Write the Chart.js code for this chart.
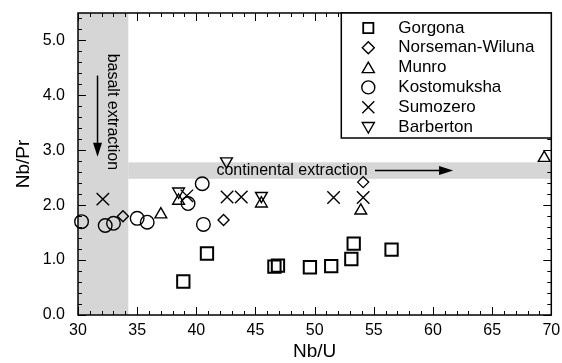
<!DOCTYPE html>
<html lang="en">
<head>
  <meta charset="UTF-8">
  <title>Nb/Pr vs Nb/U</title>
  <script src="https://cdn.jsdelivr.net/npm/chart.js"></script>
  <style>
    html, body { margin: 0; padding: 0; background: #ffffff; }
  </style>
</head>
<body>
  <canvas id="chart" width="562" height="363"></canvas>

  <script>
    // Data (x = Nb/U, y = Nb/Pr)
    const gorgonaX = [38.9, 40.9, 46.6, 46.9, 49.6, 51.4, 53.1, 53.3, 56.5];
    const gorgonaY = [0.61, 1.12, 0.88, 0.90, 0.87, 0.89, 1.02, 1.30, 1.19];

    const norsemanX = [33.8, 42.3, 54.1];
    const norsemanY = [1.80, 1.73, 2.42];

    const munroX = [37.0, 38.5, 45.5, 53.9, 69.4];
    const munroY = [1.83, 2.08, 2.03, 1.90, 2.86];

    const kostomukshaX = [30.3, 32.3, 33.0, 35.0, 35.85, 39.3, 40.5, 40.6];
    const kostomukshaY = [1.70, 1.63, 1.67, 1.76, 1.69, 2.03, 2.39, 1.65];

    const sumozeroX = [32.1, 39.2, 42.6, 43.8, 51.6, 54.1];
    const sumozeroY = [2.11, 2.17, 2.15, 2.15, 2.14, 2.14];

    const barbertonX = [38.5, 42.55, 45.5];
    const barbertonY = [2.25, 2.80, 2.17];

    const xTickValues = [30, 35, 40, 45, 50, 55, 60, 65, 70];
    const yTickValues = [0, 1, 2, 3, 4, 5];

    // shaded zones: vertical band on Nb/U, horizontal band on Nb/Pr
    const basaltBand = [30, 34.25];
    const continentalBand = [2.48, 2.78];

    const FONT = '"Liberation Sans", Arial, Helvetica, sans-serif';
    const BAND = '#d6d6d6';

    const toPoints = (xs, ys) => xs.map((v, i) => ({ x: v, y: ys[i] }));

    function series(label, xs, ys, style, radius, rotation, width) {
      return {
        label: label,
        data: toPoints(xs, ys),
        pointStyle: style,
        pointRadius: radius,
        pointHoverRadius: radius,
        pointRotation: rotation,
        borderColor: '#000',
        backgroundColor: 'rgba(0,0,0,0)',
        pointBorderWidth: width,
        borderWidth: width,
        showLine: false,
        clip: false
      };
    }

    const datasets = [
      series('Gorgona', gorgonaX, gorgonaY, 'rect', 8.7, 0, 2),
      series('Norseman-Wiluna', norsemanX, norsemanY, 'rectRot', 5.5, 0, 1.4),
      series('Munro', munroX, munroY, 'triangle', 6.8, 0, 1.4),
      series('Kostomuksha', kostomukshaX, kostomukshaY, 'circle', 6.8, 0, 1.4),
      series('Sumozero', sumozeroX, sumozeroY, 'crossRot', 8.8, 0, 1.4),
      series('Barberton', barbertonX, barbertonY, 'triangle', 6.8, 180, 1.4)
    ];

    function arrow(ctx, x1, y1, x2, y2, headLen, headHalf) {
      const ang = Math.atan2(y2 - y1, x2 - x1);
      const bx = x2 - Math.cos(ang) * headLen;
      const by = y2 - Math.sin(ang) * headLen;
      ctx.beginPath();
      ctx.moveTo(x1, y1);
      ctx.lineTo(bx, by);
      ctx.stroke();
      ctx.beginPath();
      ctx.moveTo(x2, y2);
      ctx.lineTo(bx - Math.sin(ang) * headHalf, by + Math.cos(ang) * headHalf);
      ctx.lineTo(bx + Math.sin(ang) * headHalf, by - Math.cos(ang) * headHalf);
      ctx.closePath();
      ctx.fill();
    }

    // bands, annotations, inside ticks, frame and boxed legend
    const decorations = {
      id: 'decorations',
      beforeDatasetsDraw(chart) {
        const { ctx, chartArea: a, scales: { x, y } } = chart;
        ctx.save();
        ctx.fillStyle = BAND;
        const bx = x.getPixelForValue(basaltBand[1]);
        ctx.fillRect(a.left, a.top, bx - a.left, a.bottom - a.top);
        const ty = y.getPixelForValue(continentalBand[1]);
        const by = y.getPixelForValue(continentalBand[0]);
        ctx.fillRect(bx, ty, a.right - bx, by - ty);

        ctx.fillStyle = '#000';
        ctx.strokeStyle = '#000';
        ctx.lineWidth = 1.5;
        ctx.font = '16px ' + FONT;

        // continental extraction
        const cy = y.getPixelForValue(2.63);
        ctx.textAlign = 'left';
        ctx.textBaseline = 'middle';
        ctx.fillText('continental extraction', x.getPixelForValue(41.7), cy);
        arrow(ctx, x.getPixelForValue(55.1), cy, x.getPixelForValue(61.7), cy, 14, 4.5);

        // basalt extraction (vertical)
        ctx.save();
        ctx.translate(x.getPixelForValue(32.9), y.getPixelForValue(4.76));
        ctx.rotate(Math.PI / 2);
        ctx.textAlign = 'left';
        ctx.fillText('basalt extraction', 0, 0);
        ctx.restore();
        const ax = x.getPixelForValue(31.65);
        arrow(ctx, ax, y.getPixelForValue(4.36), ax, y.getPixelForValue(2.88), 14, 4.5);
        ctx.restore();
      },
      afterDatasetsDraw(chart) {
        const { ctx, chartArea: a, scales: { x, y } } = chart;
        ctx.save();
        ctx.strokeStyle = '#000';
        ctx.lineWidth = 1;
        ctx.beginPath();
        for (let i = 30; i <= 70; i++) {
          const px = Math.round(x.getPixelForValue(i)) + 0.5;
          const len = i % 5 === 0 ? 8 : 4;
          ctx.moveTo(px, a.bottom); ctx.lineTo(px, a.bottom - len);
          ctx.moveTo(px, a.top); ctx.lineTo(px, a.top + len);
        }
        for (let i = 0; i <= 27; i++) {
          const py = Math.round(y.getPixelForValue(i * 0.2)) + 0.5;
          const len = i % 5 === 0 ? 8 : 4;
          ctx.moveTo(a.left, py); ctx.lineTo(a.left + len, py);
          ctx.moveTo(a.right, py); ctx.lineTo(a.right - len, py);
        }
        ctx.stroke();
        ctx.lineWidth = 1.5;
        ctx.strokeRect(a.left, a.top, a.right - a.left, a.bottom - a.top);
        ctx.restore();
      },
      afterDraw(chart) {
        const { ctx, chartArea: a } = chart;
        const w = 210, h = 125;
        const left = a.right - w, top = a.top;
        ctx.save();
        ctx.fillStyle = '#fff';
        ctx.fillRect(left, top, w, h);
        ctx.strokeStyle = '#000';
        ctx.lineWidth = 1.5;
        ctx.strokeRect(left, top, w, h);

        const legendRadius = [7.2, 6, 7, 6.5, 8.5, 7];
        ctx.font = '17px ' + FONT;
        ctx.textAlign = 'left';
        ctx.textBaseline = 'middle';
        datasets.forEach((ds, i) => {
          const ry = top + 15 + i * 19.8;
          ctx.fillStyle = 'rgba(0,0,0,0)';
          ctx.lineWidth = i === 0 ? 1.8 : 1.4;
          Chart.helpers.drawPoint(ctx, {
            pointStyle: ds.pointStyle,
            rotation: ds.pointRotation,
            radius: legendRadius[i],
            borderWidth: 1
          }, left + 27, ry + (ds.pointStyle === 'triangle' ? (ds.pointRotation ? -1 : 1.5) : 0));
          ctx.fillStyle = '#000';
          ctx.fillText(ds.label, left + 57, ry);
        });
        ctx.restore();
      }
    };

    new Chart(document.getElementById('chart'), {
      type: 'scatter',
      data: { datasets: datasets },
      options: {
        responsive: false,
        animation: false,
        events: [],
        layout: { padding: { top: 13, right: 5, left: 0, bottom: 0 } },
        plugins: {
          legend: { display: false },
          tooltip: { enabled: false }
        },
        scales: {
          x: {
            type: 'linear',
            min: 30,
            max: 70,
            afterFit: s => { s.height = 48; s.paddingLeft = 0; s.paddingRight = 0; },
            afterBuildTicks: s => { s.ticks = xTickValues.map(v => ({ value: v })); },
            grid: { display: false, drawTicks: false },
            border: { display: false },
            ticks: {
              color: '#000',
              padding: 6,
              maxRotation: 0,
              font: { family: FONT, size: 16 }
            },
            title: {
              display: true,
              text: 'Nb/U',
              color: '#000',
              padding: { top: 0, bottom: 0 },
              font: { family: FONT, size: 19 }
            }
          },
          y: {
            type: 'linear',
            min: 0,
            max: 5.5,
            afterFit: s => { s.width = 78; s.paddingTop = 0; s.paddingBottom = 0; },
            afterBuildTicks: s => { s.ticks = yTickValues.map(v => ({ value: v })); },
            grid: { display: false, drawTicks: false },
            border: { display: false },
            ticks: {
              color: '#000',
              padding: 13,
              font: { family: FONT, size: 16 },
              callback: v => v.toFixed(1)
            },
            title: {
              display: true,
              text: 'Nb/Pr',
              color: '#000',
              padding: { top: 12, bottom: 0 },
              font: { family: FONT, size: 19 }
            }
          }
        }
      },
      plugins: [decorations]
    });
  </script>
</body>
</html>
